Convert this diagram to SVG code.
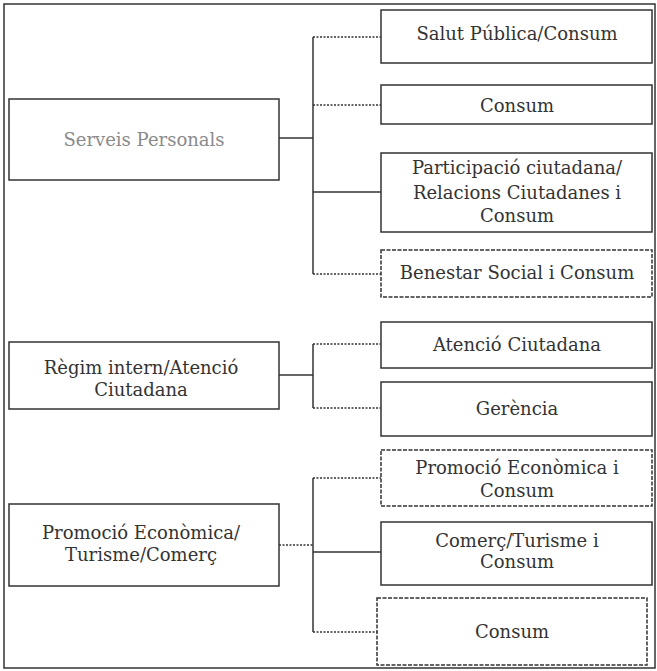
<svg xmlns="http://www.w3.org/2000/svg" width="657" height="671" viewBox="0 0 657 671">
<style>
  .box{fill:#fff;stroke:#333;stroke-width:1.5}
  .dbox{fill:#fff;stroke:#333;stroke-width:1.5;stroke-dasharray:4 1.5}
  .ln{fill:none;stroke:#333;stroke-width:1.5}
  .dot{fill:none;stroke:#333;stroke-width:1.5;stroke-dasharray:2 1.5}
  text{font-family:"DejaVu Serif","Liberation Serif",serif;font-size:18px;fill:#333;text-anchor:middle}
  .faint{fill:#8a8a8a}
</style>
<rect x="0" y="0" width="657" height="671" fill="#fff"/>
<rect x="4" y="4" width="651" height="664" fill="none" stroke="#333" stroke-width="1.5"/>
<g id="connectors">
  <line class="ln" x1="279" y1="138" x2="313" y2="138"/>
  <line class="ln" x1="313" y1="37" x2="313" y2="274"/>
  <line class="dot" x1="313" y1="37" x2="381" y2="37"/>
  <line class="dot" x1="313" y1="105" x2="381" y2="105"/>
  <line class="ln" x1="313" y1="192" x2="381" y2="192"/>
  <line class="dot" x1="313" y1="274" x2="381" y2="274"/>
  <line class="ln" x1="279" y1="375" x2="313" y2="375"/>
  <line class="ln" x1="313" y1="344" x2="313" y2="408"/>
  <line class="dot" x1="313" y1="344" x2="381" y2="344"/>
  <line class="dot" x1="313" y1="408" x2="381" y2="408"/>
  <line class="dot" x1="279" y1="545" x2="313" y2="545"/>
  <line class="ln" x1="313" y1="478" x2="313" y2="632"/>
  <line class="dot" x1="313" y1="478" x2="381" y2="478"/>
  <line class="ln" x1="313" y1="552" x2="381" y2="552"/>
  <line class="dot" x1="313" y1="632" x2="377" y2="632"/>
</g>
<g id="serveis">
  <rect class="box" x="9" y="99" width="270" height="81"/>
  <text class="faint" x="144" y="146">Serveis Personals</text>
</g>
<g id="salut">
  <rect class="box" x="381" y="10" width="271" height="53"/>
  <text x="517" y="40">Salut Pública/Consum</text>
</g>
<g id="consum1">
  <rect class="box" x="381" y="85" width="271" height="39"/>
  <text x="517" y="112">Consum</text>
</g>
<g id="participacio">
  <rect class="box" x="381" y="153" width="271" height="79"/>
  <text x="517" y="174">Participació ciutadana/</text>
  <text x="517" y="199">Relacions Ciutadanes i</text>
  <text x="517" y="222">Consum</text>
</g>
<g id="benestar">
  <rect class="dbox" x="381" y="250" width="271" height="47"/>
  <text x="517" y="279">Benestar Social i Consum</text>
</g>
<g id="regim">
  <rect class="box" x="9" y="342" width="270" height="67"/>
  <text x="141" y="374">Règim intern/Atenció</text>
  <text x="141" y="396">Ciutadana</text>
</g>
<g id="atencio">
  <rect class="box" x="381" y="322" width="271" height="46"/>
  <text x="517" y="351">Atenció Ciutadana</text>
</g>
<g id="gerencia">
  <rect class="box" x="381" y="382" width="271" height="54"/>
  <text x="517" y="415">Gerència</text>
</g>
<g id="promocio">
  <rect class="box" x="9" y="504" width="270" height="82"/>
  <text x="141" y="539">Promoció Econòmica/</text>
  <text x="141" y="561">Turisme/Comerç</text>
</g>
<g id="promocio-consum">
  <rect class="dbox" x="381" y="450" width="271" height="56"/>
  <text x="517" y="474">Promoció Econòmica i</text>
  <text x="517" y="497">Consum</text>
</g>
<g id="comerc">
  <rect class="box" x="381" y="522" width="271" height="63"/>
  <text x="517" y="547">Comerç/Turisme i</text>
  <text x="517" y="568">Consum</text>
</g>
<g id="consum2">
  <rect class="dbox" x="377" y="598" width="270" height="67"/>
  <text x="512" y="638">Consum</text>
</g>
</svg>
